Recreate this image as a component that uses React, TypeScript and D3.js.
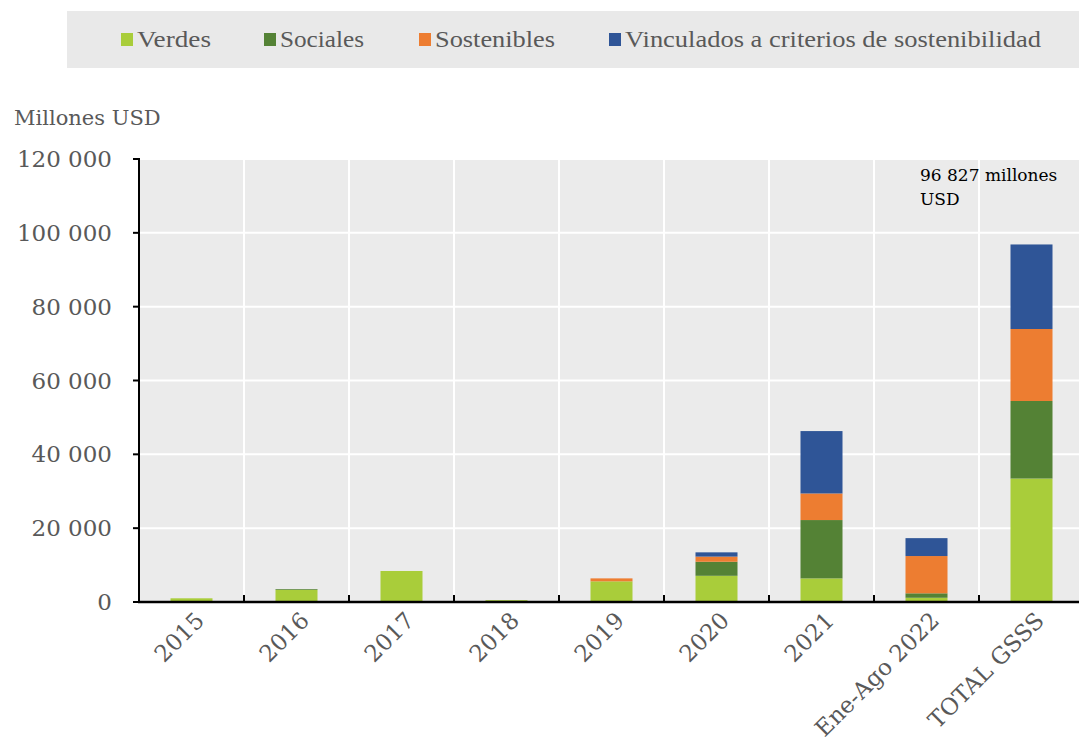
import React from "react";
import * as d3 from "d3";

const categories = ["2015", "2016", "2017", "2018", "2019", "2020", "2021", "Ene-Ago 2022", "TOTAL GSSS"];
const seriesNames = ["Verdes", "Sociales", "Sostenibles", "Vinculados a criterios de sostenibilidad"];
const verdes = [1000, 3300, 8400, 500, 5600, 7100, 6400, 1150, 33450];
const sociales = [0, 200, 0, 0, 0, 3800, 15800, 1200, 21000];
const sostenibles = [0, 0, 0, 0, 800, 1400, 7200, 10100, 19500];
const vinculados = [0, 0, 0, 0, 0, 1150, 16900, 4850, 22900];
const yTicks = [0, 20000, 40000, 60000, 80000, 100000, 120000];
const colors = ["#a9cd3a", "#548235", "#ed7d31", "#2f5597"];

const W = 1079;
const H = 751;
const margin = { left: 139, right: -5, top: 159, bottom: 149 };
const font = "'Liberation Serif', serif";
const font2 = "'DejaVu Serif', serif";

// legend layout (swatch x, text width)
const legendX = [121, 264, 419, 609];
const legendW = [74, 84, 120, 416];

export default function App() {
  const x = d3.scaleBand().domain(categories).range([margin.left, W - margin.right]).paddingInner(0).paddingOuter(0);
  const y = d3.scaleLinear().domain([0, 120000]).range([H - margin.bottom, margin.top]);

  const rows = categories.map((c, i) => ({
    cat: c,
    s0: verdes[i],
    s1: sociales[i],
    s2: sostenibles[i],
    s3: vinculados[i],
  }));
  const stack = d3.stack<any>().keys(["s0", "s1", "s2", "s3"])(rows);
  const barW = x.bandwidth() * 0.4;
  const fmt = (v: number) => d3.format(",")(v).replace(/,/g, " ");
  const y0 = y(0);

  return (
    <svg width={W} height={H} style={{ position: "absolute", left: 0, top: 0 }}>
      {/* legend */}
      <rect x={67} y={11} width={W - 67} height={57} fill="#e9e9e9" />
      {seriesNames.map((n, i) => (
        <g key={n}>
          <rect x={legendX[i]} y={33} width={12} height={13} fill={colors[i]} />
          <text
            x={legendX[i] + 16}
            y={47}
            fontFamily={font}
            fontSize={24}
            fill="#595959"
            textLength={legendW[i]}
            lengthAdjust="spacingAndGlyphs"
          >
            {n}
          </text>
        </g>
      ))}

      <text x={14} y={125} fontFamily={font2} fontSize={21} fill="#595959">Millones USD</text>

      {/* plot background */}
      <rect x={margin.left} y={margin.top} width={W - margin.left} height={y0 - margin.top} fill="#ebebeb" />
      {yTicks.slice(1).map((t) => (
        <line key={t} x1={margin.left} x2={W} y1={y(t)} y2={y(t)} stroke="#fff" strokeWidth={2} />
      ))}
      {categories.slice(1).map((c) => (
        <line key={c} x1={x(c)!} x2={x(c)!} y1={margin.top} y2={y0} stroke="#fff" strokeWidth={2} />
      ))}

      {/* bars */}
      {stack.map((layer, li) => (
        <g key={li} fill={colors[li]}>
          {layer.map((d, i) =>
            d[1] - d[0] > 0 ? (
              <rect
                key={i}
                x={x(categories[i])! + (x.bandwidth() - barW) / 2}
                y={y(d[1])}
                width={barW}
                height={y(d[0]) - y(d[1])}
              />
            ) : null
          )}
        </g>
      ))}

      {/* axes */}
      <line x1={margin.left} x2={margin.left} y1={margin.top - 1} y2={y0} stroke="#000" strokeWidth={2} />
      {yTicks.map((t) => (
        <g key={t}>
          <line x1={margin.left - 6} x2={margin.left} y1={y(t)} y2={y(t)} stroke="#000" strokeWidth={2} />
          <text x={112} y={y(t) + 8} textAnchor="end" fontFamily={font2} fontSize={23} fill="#595959">
            {fmt(t)}
          </text>
        </g>
      ))}
      <line x1={margin.left - 1} x2={W} y1={y0} y2={y0} stroke="#000" strokeWidth={2.5} />
      {categories.slice(1).map((c) => (
        <line key={c} x1={x(c)!} x2={x(c)!} y1={y0 - 7} y2={y0} stroke="#000" strokeWidth={2} />
      ))}
      {categories.map((c) => {
        const cx = x(c)! + x.bandwidth() / 2 + 14;
        return (
          <text
            key={c}
            transform={`translate(${cx},${y0 + 20}) rotate(-45)`}
            textAnchor="end"
            fontFamily={font2}
            fontSize={23}
            fill="#595959"
          >
            {c}
          </text>
        );
      })}

      {/* annotation */}
      <text fontFamily={font2} fontSize={17} fill="#000">
        <tspan x={920} y={181}>96 827 millones</tspan>
        <tspan x={920} y={205}>USD</tspan>
      </text>
    </svg>
  );
}
